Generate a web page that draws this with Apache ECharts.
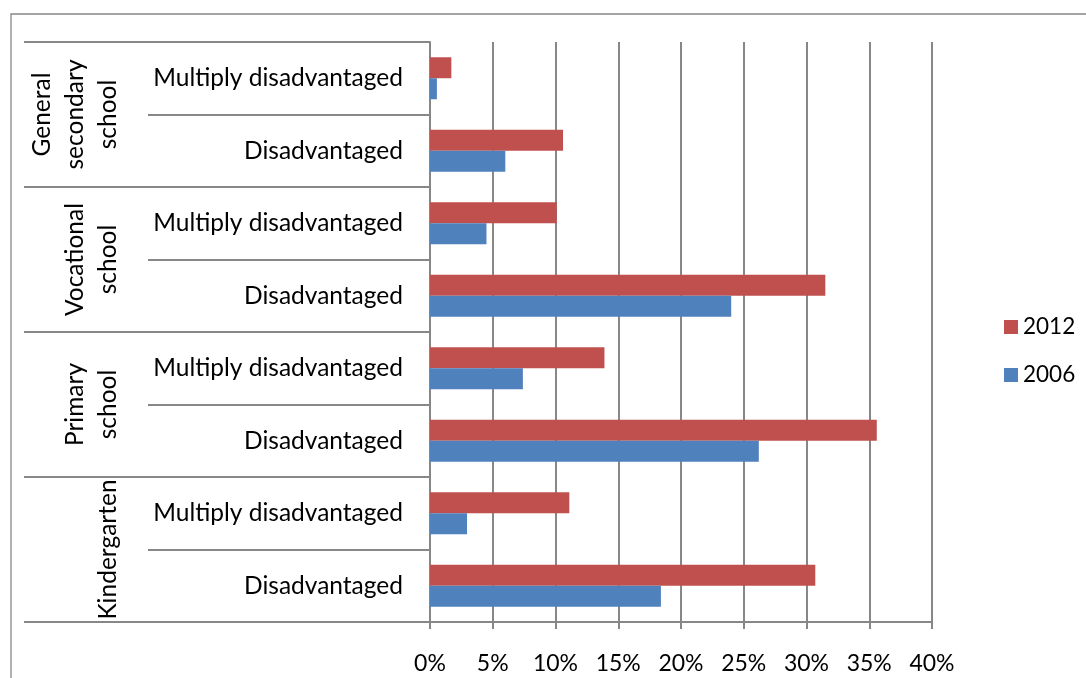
<!DOCTYPE html>
<html>
<head>
<meta charset="utf-8">
<script src="https://cdn.jsdelivr.net/npm/echarts@6/dist/echarts.min.js"></script>
<style>
html,body{margin:0;padding:0;background:#fff;}
#chart{width:1086px;height:678px;}
</style>
</head>
<body>
<div id="chart"></div>
<script>
// categories (top to bottom)
const subCategories = [
  'Multiply disadvantaged', 'Disadvantaged',
  'Multiply disadvantaged', 'Disadvantaged',
  'Multiply disadvantaged', 'Disadvantaged',
  'Multiply disadvantaged', 'Disadvantaged'
];
const groups = ['General\nsecondary\nschool', 'Vocational\nschool', 'Primary\nschool', 'Kindergarten'];
const seriesNames = ['2012', '2006'];
const values2012 = [1.7, 10.6, 10.1, 31.5, 13.9, 35.6, 11.1, 30.7];
const values2006 = [0.55, 6.0, 4.5, 24.0, 7.4, 26.2, 2.95, 18.4];
const xTicks = { min: 0, max: 40, interval: 5 };

const FONT = 'Lato';
const GRAY = '#878787';

const chart = echarts.init(document.getElementById('chart'), null, { renderer: 'canvas' });
chart.setOption({
  animation: false,
  backgroundColor: '#fff',
  textStyle: { fontFamily: FONT },
  graphic: [{
    type: 'rect',
    shape: { x: 11, y: 14, width: 1200, height: 800 },
    style: { fill: 'none', stroke: GRAY, lineWidth: 1.3 },
    silent: true, z: -10
  }],
  legend: {
    orient: 'vertical',
    left: 999, top: 308,
    data: seriesNames,
    icon: 'rect',
    itemWidth: 14, itemHeight: 14,
    itemGap: 20,
    textStyle: { fontFamily: FONT, fontSize: 22.5, color: '#000', lineHeight: 28, padding: 0 }
  },
  grid: { left: 430, right: 154, top: 42, bottom: 56, containLabel: false },
  xAxis: {
    type: 'value',
    min: xTicks.min, max: xTicks.max, interval: xTicks.interval,
    axisLine: { show: true, lineStyle: { color: GRAY, width: 2 } },
    axisTick: { show: true, length: 7, lineStyle: { color: GRAY, width: 2 } },
    splitLine: { show: true, lineStyle: { color: GRAY, width: 2 } },
    axisLabel: { formatter: '{value}%', fontFamily: FONT, fontSize: 23, color: '#000', margin: 30 }
  },
  yAxis: [{
    type: 'category',
    inverse: true,
    data: subCategories,
    axisLine: { show: true, lineStyle: { color: GRAY, width: 2 } },
    axisTick: { show: true, length: 282, interval: 0, lineStyle: { color: GRAY, width: 2 } },
    axisLabel: { interval: 0, fontFamily: FONT, fontSize: 24.5, color: '#000', margin: 27, padding: [4, 0, 0, 0] }
  }, {
    type: 'category',
    inverse: true,
    data: groups,
    position: 'left',
    axisLine: { show: false },
    axisTick: { show: true, length: 406, interval: 0, lineStyle: { color: GRAY, width: 2 } },
    axisLabel: { interval: 0, rotate: 90, fontFamily: FONT, fontSize: 24.5, color: '#000', lineHeight: 33, margin: 305 }
  }],
  series: [{
    name: seriesNames[0],
    type: 'bar',
    yAxisIndex: 0,
    data: values2012,
    barWidth: 21,
    barGap: '0%',
    itemStyle: { color: '#C0504D' }
  }, {
    name: seriesNames[1],
    type: 'bar',
    yAxisIndex: 0,
    data: values2006,
    barWidth: 21,
    barGap: '0%',
    itemStyle: { color: '#4F81BD' }
  }]
});
</script>
</body>
</html>
